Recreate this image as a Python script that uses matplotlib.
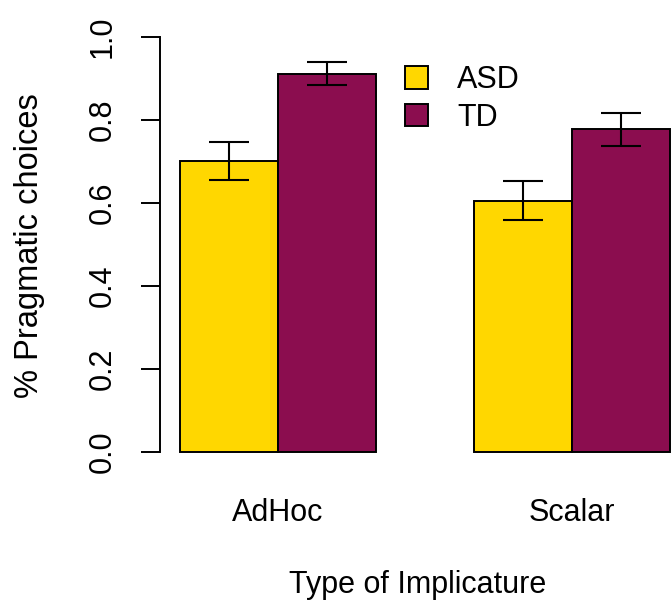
import matplotlib
matplotlib.use("Agg")
import matplotlib.pyplot as plt
import numpy as np
from matplotlib.patches import Patch

plt.rcParams['font.family'] = ['Liberation Sans', 'DejaVu Sans']

# data
implicatures = ['AdHoc', 'Scalar']
groups = ['ASD', 'TD']
asd_mean = [0.701, 0.606]
asd_err = [0.045, 0.048]
td_mean = [0.912, 0.778]
td_err = [0.028, 0.040]
colors = ['#FFD700', '#8B0D4F']

FS = 22
fig = plt.figure(figsize=(6.72, 6.05), dpi=100)
# plot region runs past the right edge like the R original
ax_l, ax_r, ax_t, ax_b = 160.4, 690, 20.4, 468.6
ax = fig.add_axes([ax_l / 672, (605 - ax_b) / 605, (ax_r - ax_l) / 672, (ax_b - ax_t) / 605])

# R style positions: bars of width 1, groups separated by one bar
centers = np.array([2.0, 5.0])
x_asd = centers - 0.5
x_td = centers + 0.5

ax.bar(x_asd, asd_mean, width=1.0, color=colors[0], edgecolor='black', linewidth=1.4, label=groups[0])
ax.bar(x_td, td_mean, width=1.0, color=colors[1], edgecolor='black', linewidth=1.4, label=groups[1])
ax.errorbar(x_asd, asd_mean, yerr=asd_err, fmt='none', ecolor='black', elinewidth=1.5, capsize=20 / 1.389, capthick=1.5)
ax.errorbar(x_td, td_mean, yerr=td_err, fmt='none', ecolor='black', elinewidth=1.5, capsize=20 / 1.389, capthick=1.5)

ax.set_xlim(0.8, 6.2)
ax.set_ylim(-0.04, 1.04)

for s in ['top', 'right', 'bottom']:
    ax.spines[s].set_visible(False)
ax.spines['left'].set_bounds(0, 1)
ax.spines['left'].set_linewidth(1.4)

ax.set_yticks(np.arange(0, 1.01, 0.2))
ax.set_yticklabels(['%.1f' % v for v in np.arange(0, 1.01, 0.2)], rotation=90, va='center', fontsize=FS)
ax.tick_params(axis='y', length=13.7, width=1.4, pad=17)
ax.set_xticks(centers)
ax.set_xticklabels(implicatures, fontsize=FS)
ax.tick_params(axis='x', length=0, pad=21)

ax.set_ylabel('% Pragmatic choices', fontsize=23.5)
ax.yaxis.set_label_coords((30 - ax_l) / (ax_r - ax_l), (ax_b - 245.5) / (ax_b - ax_t))
ax.yaxis.label.set_va('center')
ax.set_xlabel('Type of Implicature', fontsize=FS)
ax.xaxis.set_label_coords((418 - ax_l) / (ax_r - ax_l), -(585 - ax_b) / (ax_b - ax_t))
ax.xaxis.label.set_va('center')

handles = [Patch(facecolor=c, edgecolor='black', linewidth=1.4) for c in colors]
ax.legend(handles, groups, loc='upper left',
          bbox_to_anchor=((393 - ax_l) / (ax_r - ax_l), (ax_b - 53) / (ax_b - ax_t)),
          frameon=False, fontsize=FS, handlelength=0.75, handleheight=0.75, handletextpad=0.95,
          labelspacing=0.25, borderaxespad=0)

fig.savefig('out.png', dpi=100)
